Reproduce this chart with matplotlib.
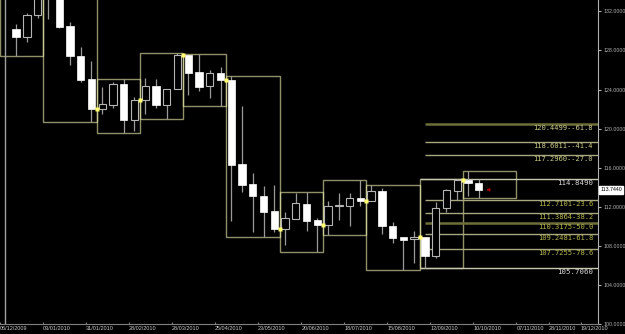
import matplotlib
matplotlib.use('Agg')
import matplotlib.pyplot as plt
import matplotlib.transforms as mtransforms
import pandas as pd

# weekly candles, week 0 = week of 03/01/2010
weeks = list(range(-3, 41))
opens = [130.22, 129.37, 131.64, 136.00, 133.60, 130.52, 127.46, 125.12,
         122.06, 122.47, 124.58, 120.87, 122.98, 124.41, 122.47, 124.07,
         127.49, 125.76, 124.33, 125.70, 125.02, 116.35, 114.31, 113.12,
         111.59, 109.73, 110.75, 112.28, 110.64, 110.16, 112.05, 112.04,
         112.86, 112.61, 113.57, 110.00, 108.88, 108.68, 108.91, 106.94,
         111.87, 113.63, 114.72, 114.42]
highs = [130.73, 131.82, 134.50, 136.50, 134.00, 130.90, 128.31, 126.95,
         124.23, 124.78, 125.12, 123.25, 125.19, 125.09, 124.10, 127.74,
         127.53, 127.64, 126.04, 126.29, 125.43, 122.30, 115.51, 114.14,
         114.21, 111.43, 113.37, 113.47, 110.85, 112.61, 113.40, 113.40,
         114.72, 114.21, 113.88, 110.47, 108.91, 109.55, 108.91, 112.45,
         113.80, 114.849, 115.67, 114.82]
lows = [127.39, 128.92, 131.30, 131.20, 130.29, 126.55, 124.74, 120.70,
        121.45, 122.13, 119.58, 119.75, 121.45, 122.13, 121.01, 124.07,
        123.42, 123.82, 123.15, 122.32, 110.57, 113.53, 109.45, 108.88,
        109.39, 108.10, 110.75, 109.55, 107.35, 109.11, 110.68, 110.06,
        112.04, 112.61, 109.22, 108.30, 105.48, 106.23, 105.706, 106.74,
        111.43, 112.68, 113.12, 112.86]
closes = [129.43, 131.64, 134.00, 133.60, 130.45, 127.39, 125.02, 122.03,
          122.54, 124.58, 120.87, 122.98, 124.41, 122.47, 124.10, 127.49,
          125.70, 124.27, 125.70, 125.02, 116.25, 114.28, 113.06, 111.49,
          109.73, 110.85, 112.35, 110.57, 110.16, 112.04, 112.15, 112.86,
          112.61, 113.57, 110.00, 108.81, 108.64, 108.91, 106.94, 111.87,
          113.70, 114.79, 114.42, 113.744]

# first week of each month (Dec 2009 ... Nov 2010)
month_starts = [-4, 0, 5, 9, 13, 17, 22, 26, 30, 35, 39, 44]

tick_dates = ['06/12/2009', '03/01/2010', '31/01/2010', '28/02/2010', '28/03/2010',
              '25/04/2010', '23/05/2010', '20/06/2010', '18/07/2010', '15/08/2010',
              '12/09/2010', '10/10/2010', '07/11/2010', '28/11/2010', '19/12/2010']

fib_levels = [120.4499, 118.6011, 117.2960, 112.7101, 111.3864, 110.3175, 109.2481, 107.7255]
fib_tags = ['61.8', '41.4', '27.0', '23.6', '38.2', '50.0', '61.8', '78.6']
range_high = 114.8490
range_low = 105.7060
last_price = 113.7440

fig = plt.figure(figsize=(6.25, 3.34), dpi=100, facecolor='black')
ax = fig.add_axes([0, 10 / 334, 598 / 625, 324 / 334])
ax.set_facecolor('black')

# monthly range boxes
for k in range(len(month_starts) - 1):
    a, b = month_starts[k], month_starts[k + 1]
    idx = [j for j, w in enumerate(weeks) if a <= w < b]
    if not idx:
        continue
    top = max(highs[j] for j in idx)
    bot = min(lows[j] for j in idx)
    ax.add_patch(plt.Rectangle((a - 0.5, bot), b - a, top - bot, fill=False,
                               edgecolor='#f0f0b0', alpha=0.6, lw=1, zorder=1))
    # marker at month change (close of last week)
    if k < len(month_starts) - 2 and weeks[idx[-1]] == b - 1:
        ax.plot(b - 0.5, closes[idx[-1]], 's', ms=2.6, color='#ffff70',
                mec='none', zorder=5)

# candles
for w, o, h, l, c in zip(weeks, opens, highs, lows, closes):
    ax.vlines(w, l, h, color='#9a9a9a', lw=0.9, zorder=2)
    if c >= o:
        ax.bar(w, max(c - o, 0.12), bottom=o, width=0.68, color='black',
               edgecolor='#b4b4b4', lw=0.8, zorder=3)
    else:
        ax.bar(w, o - c, bottom=c, width=0.68, color='white',
               edgecolor='white', lw=0.5, zorder=3)

# fib levels
fib_start = month_starts[9]
for n, (lvl, tag) in enumerate(zip(fib_levels, fib_tags)):
    upper = lvl > range_high
    sep = '--' if upper else '-'
    strong = tag in ('61.8', '50.0') and n in (0, 5)
    ax.hlines(lvl, fib_start, 60, color='#6e6e3a' if strong else '#a8a880',
              lw=1.8 if strong else 1, zorder=1)
    ax.text(50.63, lvl - 0.12, f'{lvl:.4f}{sep}{tag}', ha='right', va='top',
            color='#cccc88' if upper else '#b8b850', fontsize=5.1,
            family='DejaVu Sans Mono', zorder=6)

for lvl in (range_high, range_low):
    ax.hlines(lvl, fib_start - 0.5, 60, color='#c8c8b0', lw=1, zorder=1)
    ax.text(50.63, lvl - 0.12, f'{lvl:.4f}', ha='right', va='top',
            color='#d8d8d8', fontsize=5.3, family='DejaVu Sans Mono', zorder=6)

# last price marker
ax.annotate('', xy=(weeks[-1] + 0.45, last_price), xytext=(weeks[-1] + 1.3, last_price),
            arrowprops=dict(arrowstyle='-|>', color='#b00000', lw=0.8,
                            mutation_scale=4), zorder=6)
ax.annotate(f'{last_price:.4f}', xy=(1.0, last_price),
            xycoords=('axes fraction', 'data'), xytext=(1.5, 0),
            textcoords='offset points', ha='left', va='center', fontsize=3.8,
            family='Liberation Sans', color='black',
            bbox=dict(boxstyle='square,pad=0.25', fc='white', ec='white'),
            annotation_clip=False)

ax.axvline(-4.0, color='#a0a0a0', lw=1, zorder=1)

ax.set_xlim(-4.127, 51.09)
ax.set_ylim(100.144, 133.17)

# axes styling
for s in ('left', 'top'):
    ax.spines[s].set_visible(False)
ax.spines['right'].set_color('#b0b0b0')
ax.spines['bottom'].set_color('#808080')

base = pd.Timestamp('2010-01-03')
tpos = [(pd.to_datetime(d, dayfirst=True) - base).days / 7 - 0.5 for d in tick_dates]
ax.set_xticks(tpos)
ax.set_xticklabels(tick_dates, ha='left', fontsize=4, family='Liberation Sans',
                   color='#c8c8c8')
ax.tick_params(axis='x', direction='in', length=1.5, color='#808080', pad=1.2)

ax.yaxis.tick_right()
yt = list(range(100, 133, 4))
ax.set_yticks(yt)
ax.set_yticklabels([f'{v:.4f}' for v in yt], fontsize=3.8,
                   family='Liberation Sans', color='#b4b4b4')
ax.tick_params(axis='y', direction='out', length=2, color='#b0b0b0', pad=2)

fig.savefig('out.png', dpi=100, facecolor='black')
